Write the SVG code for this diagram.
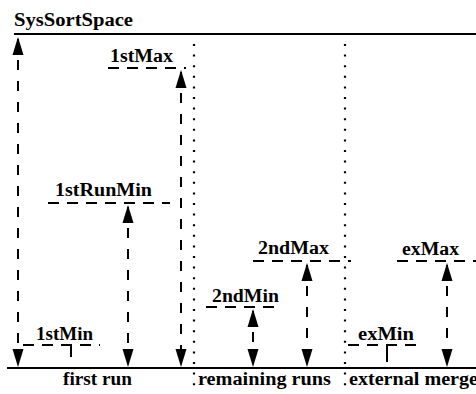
<svg xmlns="http://www.w3.org/2000/svg" width="476" height="394" viewBox="0 0 476 394">
<style>
.t{font-family:'Liberation Serif','Times New Roman',serif;font-size:18px;font-weight:bold;fill:#000}
.solid{stroke:#000;stroke-width:2;fill:none}
.lvl{stroke:#000;stroke-width:2;stroke-dasharray:11 8;fill:none}
.dot{stroke:#000;stroke-width:2.2;stroke-dasharray:2 8.6;fill:none}
.arr{stroke:#000;stroke-width:2;stroke-dasharray:10 11;fill:none;marker-start:url(#ah);marker-end:url(#ah)}
.tick{stroke:#000;stroke-width:2;fill:none}
</style>
<defs>
<marker id="ah" markerUnits="userSpaceOnUse" markerWidth="20" markerHeight="12" viewBox="0 0 20 12" refX="16" refY="6" orient="auto-start-reverse">
<path d="M0,0.5 L18,6 L0,11.5 z" fill="#000" stroke="none"/>
</marker>
</defs>
<rect width="476" height="394" fill="#fff"/>
<g id="frame">
<line class="solid" x1="14" y1="34" x2="476" y2="34"/>
<line class="solid" x1="7" y1="368" x2="476" y2="368"/>
<line class="dot" x1="194" y1="44" x2="194" y2="392"/>
<line class="dot" x1="345" y1="44" x2="345" y2="392"/>
</g>
<g id="SysSortSpace"><text class="t" x="14" y="26" textLength="119" lengthAdjust="spacingAndGlyphs">SysSortSpace</text></g>
<g id="lvl-1stMax"><text class="t" x="110" y="62" textLength="63" lengthAdjust="spacingAndGlyphs">1stMax</text><line class="lvl" x1="108" y1="68" x2="186" y2="68"/></g>
<g id="lvl-1stRunMin"><text class="t" x="55" y="196" textLength="97" lengthAdjust="spacingAndGlyphs">1stRunMin</text><line class="lvl" x1="48" y1="203" x2="170" y2="203"/></g>
<g id="lvl-1stMin"><text class="t" x="36" y="340" textLength="57" lengthAdjust="spacingAndGlyphs">1stMin</text><line class="lvl" x1="23" y1="345" x2="100" y2="345"/><line class="tick" x1="71" y1="345" x2="71" y2="357"/></g>
<g id="lvl-2ndMax"><text class="t" x="258" y="254" textLength="71" lengthAdjust="spacingAndGlyphs">2ndMax</text><line class="lvl" x1="253" y1="261" x2="351" y2="261"/></g>
<g id="lvl-2ndMin"><text class="t" x="212" y="302" textLength="67" lengthAdjust="spacingAndGlyphs">2ndMin</text><line class="lvl" x1="206" y1="307" x2="281" y2="307"/></g>
<g id="lvl-exMax"><text class="t" x="402" y="255" textLength="57" lengthAdjust="spacingAndGlyphs">exMax</text><line class="lvl" x1="397" y1="261" x2="476" y2="261"/></g>
<g id="lvl-exMin"><text class="t" x="358" y="340" textLength="56" lengthAdjust="spacingAndGlyphs">exMin</text><line class="lvl" x1="348" y1="345" x2="424" y2="345"/><line class="tick" x1="387" y1="345" x2="387" y2="362"/></g>
<g id="section-labels">
<text class="t" x="63" y="385" textLength="69" lengthAdjust="spacingAndGlyphs">first run</text>
<text class="t" x="198" y="385" textLength="133" lengthAdjust="spacingAndGlyphs">remaining runs</text>
<text class="t" x="349" y="385" textLength="129" lengthAdjust="spacingAndGlyphs">external merge</text>
</g>
<g id="connectors">
<line class="arr" x1="18" y1="39" x2="18" y2="365"/>
<line class="arr" x1="181" y1="72" x2="181" y2="365"/>
<line class="arr" x1="128" y1="207" x2="128" y2="365"/>
<line class="arr" x1="253" y1="311" x2="253" y2="365"/>
<line class="arr" x1="307" y1="265" x2="307" y2="365"/>
<line class="arr" x1="447" y1="265" x2="447" y2="365"/>
</g>
</svg>
